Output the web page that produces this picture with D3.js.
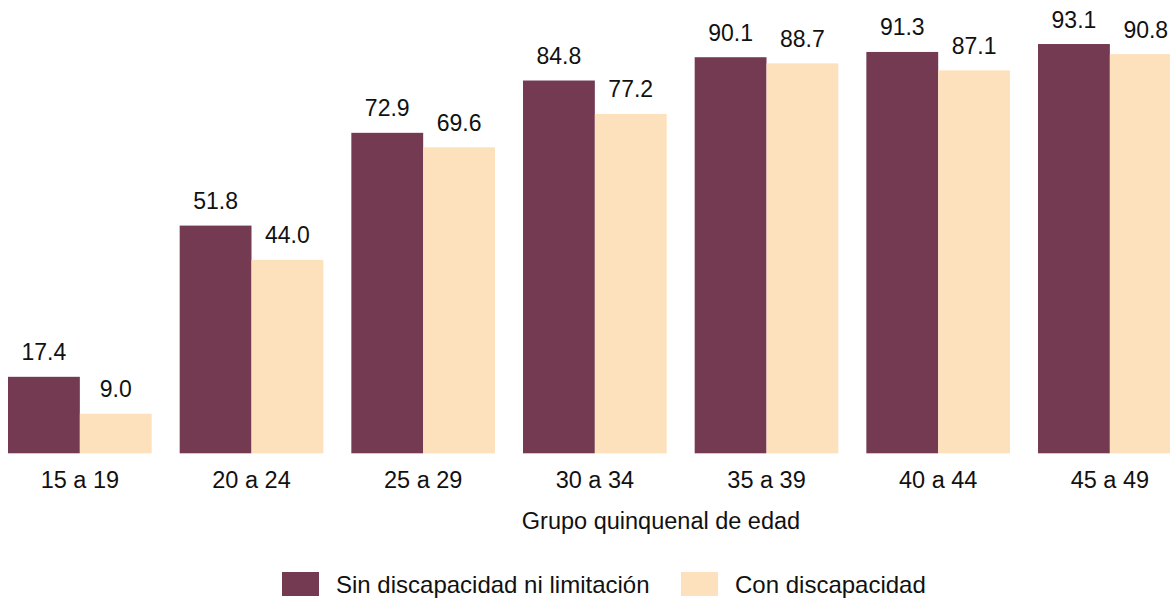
<!DOCTYPE html>
<html><head><meta charset="utf-8">
<script src="https://cdn.jsdelivr.net/npm/d3@7"></script>
<style>body{margin:0;background:#fff;overflow:hidden}text{font-family:"Liberation Sans",Arial,sans-serif;fill:#111}</style>
</head><body><svg id="c" width="1170" height="598"></svg>
<script>
const categories = ["15 a 19","20 a 24","25 a 29","30 a 34","35 a 39","40 a 44","45 a 49"];
const seriesNames = ["Sin discapacidad ni limitación","Con discapacidad"];
const sinDiscapacidad = [17.4,51.8,72.9,84.8,90.1,91.3,93.1];
const conDiscapacidad = [9.0,44.0,69.6,77.2,88.7,87.1,90.8];
const colors = ["#733a52","#fde0bc"];
const xTitle = "Grupo quinquenal de edad";

const svg = d3.select("#c");
const pi = 28/171.67;
const x = d3.scaleBand().domain(categories).range([8 - 171.67*pi/2, 8 - 171.67*pi/2 + 7*171.67]).paddingInner(pi).paddingOuter(pi/2);
const x1 = d3.scaleBand().domain([0,1]).range([0, x.bandwidth()]);
const y = d3.scaleLinear().domain([0,100]).range([453.3, 453.3-439.6]);

const data = categories.map((c,i)=>({c, v:[sinDiscapacidad[i], conDiscapacidad[i]]}));
const g = svg.selectAll("g.grp").data(data).join("g").attr("transform",d=>`translate(${x(d.c)},0)`);
g.selectAll("rect").data(d=>d.v.map((v,k)=>({v,k}))).join("rect")
 .attr("x",d=>x1(d.k)).attr("width",x1.bandwidth())
 .attr("y",d=>y(d.v)).attr("height",d=>y(0)-y(d.v))
 .attr("fill",d=>colors[d.k]);
g.selectAll("text.val").data(d=>d.v.map((v,k)=>({v,k}))).join("text").attr("class","val")
 .attr("x",d=>x1(d.k)+x1.bandwidth()/2).attr("y",d=>y(d.v)-16.5)
 .attr("text-anchor","middle").attr("font-size",23).text(d=>d.v.toFixed(1));

const xAxis = svg.append("g").attr("transform",`translate(0,${y(0)})`).call(d3.axisBottom(x).tickSize(0).tickPadding(18));
xAxis.select(".domain").remove();
xAxis.selectAll("text").attr("font-size",23.5).attr("fill","#111").attr("font-family","Liberation Sans, Arial, sans-serif");

svg.append("text").attr("x",661).attr("y",528.5).attr("text-anchor","middle").attr("font-size",23.5).text(xTitle);

const legX = [282, 681];
const lg = svg.selectAll("g.leg").data(seriesNames).join("g").attr("class","leg").attr("transform",(d,i)=>`translate(${legX[i]},572)`);
lg.append("rect").attr("width",37).attr("height",24).attr("fill",(d,i)=>colors[i]);
lg.append("text").attr("x",54).attr("y",21).attr("font-size",24).text(d=>d);
</script></body></html>
